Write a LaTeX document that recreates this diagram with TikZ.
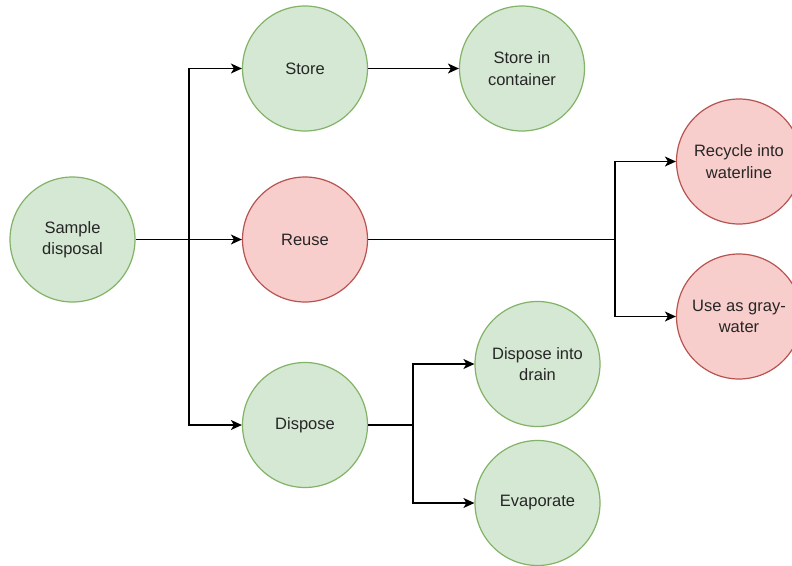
\documentclass[tikz,border=0pt]{standalone}
\usepackage{fontspec}
\setmainfont{Liberation Sans}
\usetikzlibrary{arrows.meta}
\definecolor{gfill}{HTML}{D5E8D4}
\definecolor{gline}{HTML}{82B366}
\definecolor{rfill}{HTML}{F8CECC}
\definecolor{rline}{HTML}{B85450}
\definecolor{txt}{HTML}{262626}
\begin{document}
\begin{tikzpicture}[x=1pt,y=-1pt,
  bubble/.style={circle,minimum size=125pt,inner sep=0pt,line width=1.2pt,
    align=center,text=txt,font=\fontsize{16.5}{21.5}\selectfont},
  keep/.style={bubble,draw=gline,fill=gfill},
  drop/.style={bubble,draw=rline,fill=rfill},
  arr/.style={line width=1.4pt,-{Stealth[length=11pt,width=10pt,inset=3pt]}},
  wire/.style={line width=1.4pt}]
  \fill[white] (0,0) rectangle (792,565);
  \useasboundingbox (0,0) rectangle (792,565);

  % nodes
  \node[keep] (sample) at (72.5,239.5) {Sample\\disposal};
  \node[keep] (store) at (305,68.5) {Store};
  \node[keep] (container) at (522,68.5) {Store in\\container};
  \node[drop] (reuse) at (305,239.5) {Reuse};
  \node[keep] (dispose) at (305,425) {Dispose};
  \node[drop] (recycle) at (739,161.5) {Recycle into\\waterline};
  \node[drop] (gray) at (739,316.5) {Use as gray-\\water};
  \node[keep] (drain) at (537.5,364) {Dispose into\\drain};
  \node[keep] (evap) at (537.5,503) {Evaporate};

  % junction points of the branching connectors
  \coordinate (j1) at (189,239.5);
  \coordinate (j2) at (615,239.5);
  \coordinate (j3) at (413,425);

  % connectors
  \draw[arr] (sample.east) -- (reuse.west);
  \draw[arr] (j1) |- (store.west);
  \draw[arr] (j1) |- (dispose.west);
  \draw[arr] (store.east) -- (container.west);
  \draw[wire] (reuse.east) -- (j2);
  \draw[arr] (j2) |- (recycle.west);
  \draw[arr] (j2) |- (gray.west);
  \draw[wire] (dispose.east) -- (j3);
  \draw[arr] (j3) |- (drain.west);
  \draw[arr] (j3) |- (evap.west);
\end{tikzpicture}
\end{document}
